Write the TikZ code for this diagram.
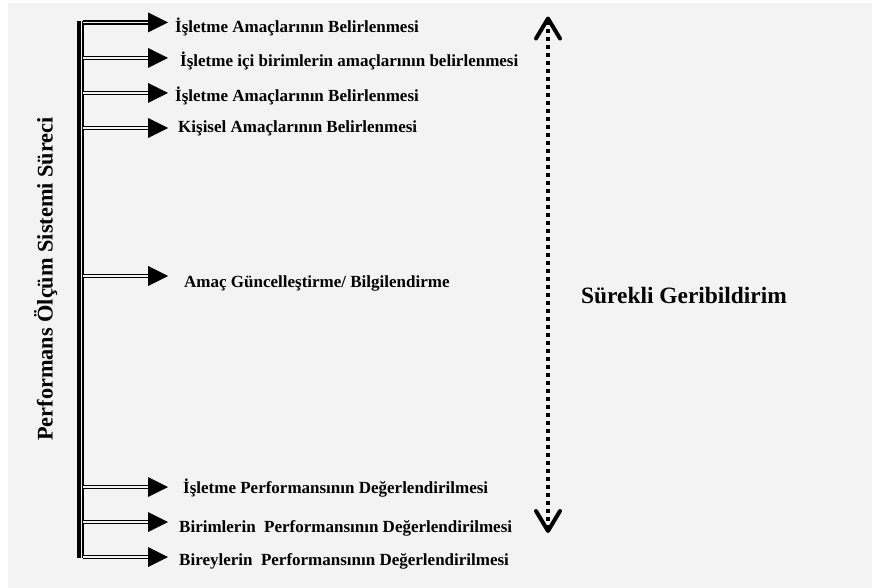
\documentclass[tikz,border=0pt]{standalone}
\usepackage{fontspec}
\setmainfont{Liberation Serif}
\usetikzlibrary{arrows.meta}
\definecolor{bgc}{RGB}{243,243,243}
\begin{document}
\begin{tikzpicture}[x=1pt,y=-1pt,
  lbl/.style={anchor=base west, inner sep=0pt, font=\bfseries\fontsize{17}{20}\selectfont},
  shaft/.style={draw=black, line width=1.7pt, double=bgc, double distance=1.1pt},
  headtri/.style={fill=black},
  feedline/.style={line width=4pt, dash pattern=on 4pt off 4pt,
    {Straight Barb[length=20pt,width=24pt,round]}-{Straight Barb[length=20pt,width=24pt,round]}}]
\useasboundingbox (0,0) rectangle (872,588);
\fill[white] (0,0) rectangle (872,588);
\fill[bgc] (8,3) rectangle (872,588);
% spine
\coordinate (sptop) at (79,21.5);
\coordinate (spbot) at (79,558);
\coordinate (sp2top) at (83,21.5);
\coordinate (sp2bot) at (83,558);
\draw[line width=3.4pt] (sptop) -- (spbot);
\draw[line width=2pt] (sp2top) -- (sp2bot);
% branches
\foreach \i/\ya/\xt/\yb/\txt in {
  1/22.5/175/33/{İşletme Amaçlarının Belirlenmesi},
  2/58/180/67/{İşletme içi birimlerin amaçlarının belirlenmesi},
  3/93/175/102/{İşletme Amaçlarının Belirlenmesi},
  4/128/178/133/{Kişisel Amaçlarının Belirlenmesi},
  5/276/184/287/{Amaç Güncelleştirme/ Bilgilendirme},
  6/487/183/493/{İşletme Performansının Değerlendirilmesi},
  7/522/179/532/{Birimlerin~~Performansının Değerlendirilmesi},
  8/557/179/565/{Bireylerin~~Performansının Değerlendirilmesi}} {
  \coordinate (s\i) at (83,\ya);
  \coordinate (b\i) at (149,\ya);
  \coordinate (h\i) at (168,\ya);
  \node[lbl] (l\i) at (\xt,\yb) {\txt};
  \draw[shaft] (s\i) -- (b\i);
  \fill[headtri] (h\i) -- ([shift={(-20,-10)}]h\i) -- ([shift={(-20,10)}]h\i) -- cycle;
}
% vertical title
\node[rotate=90, anchor=base, inner sep=0pt, font=\bfseries\fontsize{22.3}{25}\selectfont] (title) at (52.5,279) {Performans Ölçüm Sistemi Süreci};
% feedback
\coordinate (fbtop) at (548,16.5);
\coordinate (fbbot) at (548,533);
\draw[feedline] (fbbot) -- (fbtop);
\node[anchor=base west, inner sep=0pt, font=\bfseries\fontsize{23.4}{27}\selectfont] (fb) at (581,303) {Sürekli Geribildirim};
\end{tikzpicture}
\end{document}
